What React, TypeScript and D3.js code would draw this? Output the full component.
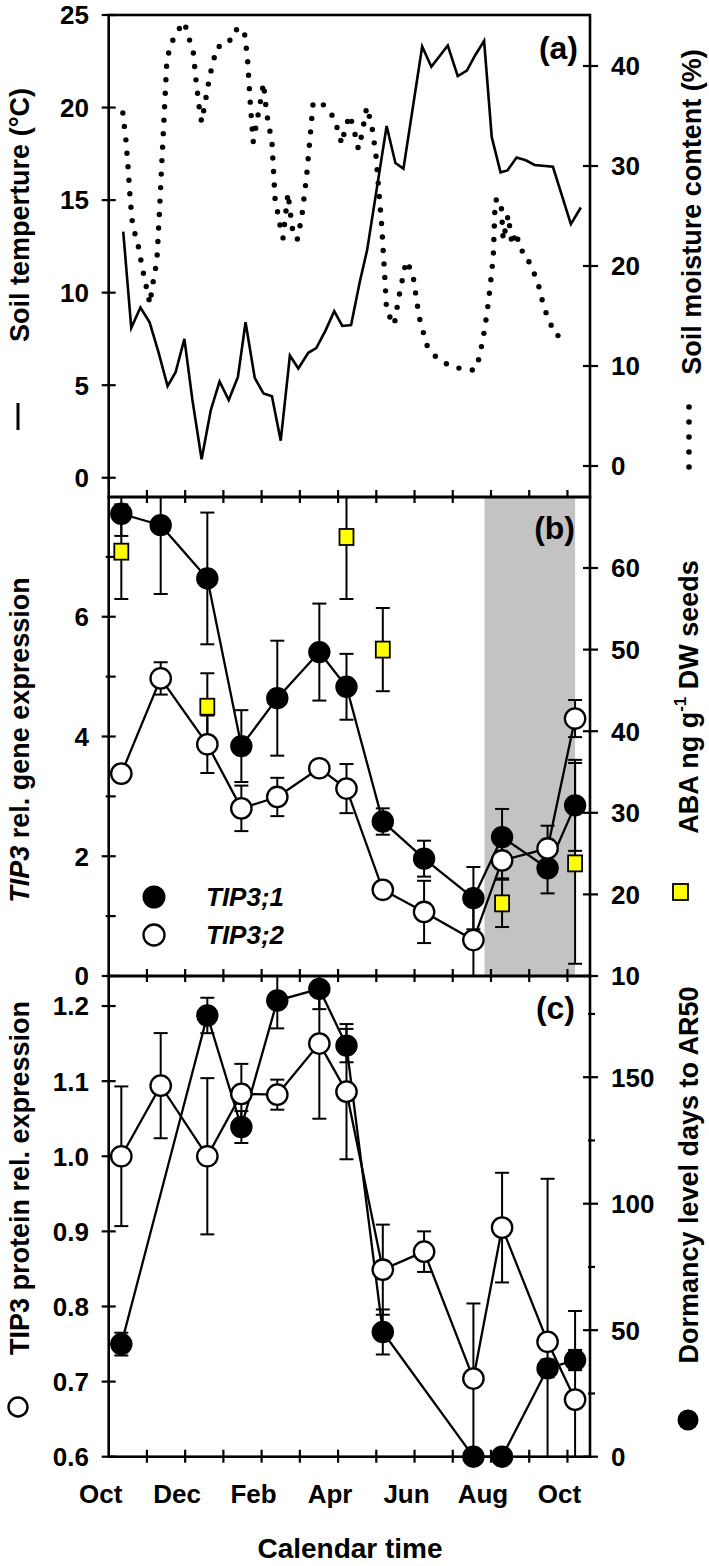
import React from "react";
import * as d3 from "d3";

// ---------- data (x values are months since 1 October) ----------
const monthTicks = [0, 1, 2, 3, 4, 5, 6, 7, 8, 9, 10, 11, 12];
const monthLabelPos = [0, 2, 4, 6, 8, 10, 12];
const monthLabels = ["Oct", "Dec", "Feb", "Apr", "Jun", "Aug", "Oct"];

// panel (a) soil temperature (solid)
const tempMonth = [0.38, 0.59, 0.83, 1.07, 1.3, 1.54, 1.75, 1.98, 2.19, 2.43, 2.67, 2.9, 3.14, 3.38, 3.58, 3.82, 4.05, 4.27, 4.5, 4.74, 4.96, 5.22, 5.43, 5.67, 5.9, 6.11, 6.34, 6.57, 6.76, 7.27, 7.5, 7.71, 8.2, 8.44, 8.87, 9.13, 9.37, 9.58, 9.82, 10.02, 10.25, 10.43, 10.67, 10.91, 11.14, 11.62, 12.09, 12.35];
const tempValue = [13.3, 8.1, 9.2, 8.4, 6.8, 4.95, 5.7, 7.5, 4.2, 1.0, 3.65, 5.2, 4.2, 5.45, 8.4, 5.4, 4.55, 4.4, 2.0, 6.6, 5.9, 6.75, 7.0, 7.95, 9.0, 8.2, 8.25, 10.6, 12.3, 19.0, 17.0, 16.7, 23.3, 22.2, 23.35, 21.7, 22.0, 22.8, 23.6, 18.4, 16.5, 16.6, 17.3, 17.15, 16.9, 16.8, 13.7, 14.6];

// panel (a) soil moisture (dotted)
const moistMonth = [0.37, 0.45, 0.51, 0.56, 0.63, 0.75, 0.89, 1.04, 1.08, 1.13, 1.26, 1.32, 1.39, 1.52, 1.6, 1.76, 1.98, 2.08, 2.21, 2.28, 2.37, 2.43, 2.52, 2.65, 2.83, 3.13, 3.28, 3.54, 3.63, 3.7, 3.78, 3.87, 4.0, 4.05, 4.13, 4.27, 4.35, 4.48, 4.56, 4.69, 4.8, 4.93, 5.05, 5.18, 5.35, 5.63, 5.9, 6.1, 6.18, 6.31, 6.47, 6.53, 6.62, 6.75, 6.88, 6.99, 7.14, 7.23, 7.27, 7.47, 7.58, 7.78, 7.95, 8.12, 8.32, 8.58, 8.98, 9.48, 9.58, 9.7, 9.84, 9.94, 10.06, 10.11, 10.26, 10.32, 10.45, 10.55, 10.66, 10.76, 10.92, 11.02, 11.21, 11.39, 11.55, 11.68, 12.03];
const moistValue = [35.3, 32.6, 29.7, 26.8, 23.9, 22.5, 19.6, 16.9, 16.2, 17.7, 20.5, 24.8, 30.4, 40.4, 41.9, 43.3, 44.4, 43.0, 41.5, 38.7, 35.8, 34.4, 36.3, 39.1, 41.9, 42.2, 43.6, 43.7, 40.8, 36.5, 32.4, 34.3, 37.1, 38.3, 35.3, 32.4, 26.8, 24.1, 22.8, 27.3, 23.8, 22.6, 24.9, 29.1, 36.4, 36.1, 34.8, 32.2, 33.7, 35.1, 32.8, 31.7, 33.1, 35.9, 34.1, 31.1, 24.1, 18.4, 15.5, 14.1, 16.7, 20.5, 19.3, 14.9, 12.1, 10.8, 9.9, 9.6, 9.6, 10.9, 13.8, 16.6, 20.9, 26.6, 26.6, 22.6, 25.1, 22.1, 23.4, 21.6, 21.3, 20.1, 18.6, 15.8, 14.3, 13.1, 12.8];

// sampling dates (b) and (c)
const sampleMonth = [0.33, 1.36, 2.58, 3.47, 4.41, 5.51, 6.22, 7.17, 8.25, 9.54, 10.29, 11.48, 12.2];

// panel (b)
const tip31 = [7.72, 7.53, 6.64, 3.84, 4.64, 5.41, 4.83, 2.58, 1.96, 1.3, 2.32, 1.8, 2.85];
const tip31Err = [0.37, 1.15, 1.1, 0.6, 0.96, 0.81, 0.55, 0.22, 0.3, 0.52, 0.47, 0.42, 0.76];
const tip32 = [3.38, 4.97, 3.87, 2.8, 2.99, 3.47, 3.13, 1.44, 1.07, 0.6, 1.93, 2.13, 4.3];
const tip32Err = [0, 0.27, 0.48, 0.38, 0.32, 0, 0.41, 0, 0.52, 0.6, 0.3, 0.38, 0.31];
const abaMonth = [0.33, 2.58, 6.22, 7.17, 10.29, 12.2];
const aba = [62.0, 43.0, 63.8, 50.0, 18.9, 23.8];
const abaErr = [5.8, 4.1, 7.6, 5.1, 2.9, 12.3];
const shadeMonths = [9.83, 12.2];

// panel (c)
const protein = [1.0, 1.094, 1.0, 1.083, 1.082, 1.15, 1.086, 0.849, 0.873, 0.704, 0.905, 0.753, 0.676];
const proteinErr = [0.093, 0.07, 0.104, 0.04, 0.02, 0.1, 0.09, 0.06, 0.027, 0.1, 0.073, 0.217, 0.118];
const dormMonth = [0.33, 2.58, 3.47, 4.41, 5.51, 6.22, 7.17, 9.54, 10.29, 11.48, 12.2];
const dormancy = [44.5, 174.4, 130.3, 180.3, 184.9, 162.5, 49.3, 0, 0, 34.9, 38.2];
const dormErr = [4.5, 7, 6.3, 11, 8, 6.6, 8.9, 0, 0, 3.5, 4];

// axis ticks
const tempTicks = [0, 5, 10, 15, 20, 25];
const moistTicks = [0, 10, 20, 30, 40];
const geneTicks = [0, 2, 4, 6];
const geneMinor = [1, 3, 5, 7];
const abaTicks = [10, 20, 30, 40, 50, 60];
const protTicks = [0.6, 0.7, 0.8, 0.9, 1.0, 1.1, 1.2];
const dormTicks = [0, 50, 100, 150];
const dormMinor = [25, 75, 125, 175];

const FONT = "'Liberation Sans', Arial, Helvetica, sans-serif";

type Scale = d3.ScaleLinear<number, number>;

function ErrBars({ xs, vs, es, x, y }: { xs: number[]; vs: number[]; es: number[]; x: Scale; y: Scale }) {
  const [d0, d1] = y.domain();
  return (
    <g stroke="#000" strokeWidth={2}>
      {xs.map((m, i) => {
        const e = es[i];
        if (!e) return null;
        const lo = vs[i] - e;
        const hi = vs[i] + e;
        const cx = x(m);
        const yl = y(Math.max(d0, lo));
        const yh = y(Math.min(d1, hi));
        return (
          <g key={i}>
            <line x1={cx} x2={cx} y1={yl} y2={yh} />
            {lo >= d0 && <line x1={cx - 7} x2={cx + 7} y1={yl} y2={yl} />}
            {hi <= d1 && <line x1={cx - 7} x2={cx + 7} y1={yh} y2={yh} />}
          </g>
        );
      })}
    </g>
  );
}

export default function App() {
  const XL = 108.7;
  const XR = 590;
  const x = d3.scaleLinear().domain([0, 12.59]).range([XL, XR]);

  const aTop = 15, aBot = 497, bBot = 976, cBot = 1456.7;
  const yTemp = d3.scaleLinear().domain([-1.04, 25]).range([aBot, aTop]);
  const yMoist = d3.scaleLinear().domain([-3.1, 45.1]).range([aBot, aTop]);
  const yGene = d3.scaleLinear().domain([0, 8]).range([bBot, aBot]);
  const yAba = d3.scaleLinear().domain([10, 68.7]).range([bBot, aBot]);
  const yProt = d3.scaleLinear().domain([0.6, 1.24]).range([cBot, bBot]);
  const yDorm = d3.scaleLinear().domain([0, 190]).range([cBot, bBot]);

  const line = (xs: number[], vs: number[], ys: Scale) =>
    d3.line<number>().x((_, i) => x(xs[i])).y((v) => ys(v))(vs) || "";

  const TF = 26;
  const leftTicks = (vals: number[], s: Scale, fmt: (v: number) => string) => (
    <g>
      {vals.map((v) => (
        <g key={v}>
          <line x1={XL - 7} x2={XL + 7} y1={s(v)} y2={s(v)} stroke="#000" strokeWidth={2.2} />
          <text x={89} y={s(v)} dy="0.36em" textAnchor="end" fontSize={TF}>
            {fmt(v)}
          </text>
        </g>
      ))}
    </g>
  );
  const rightTicks = (vals: number[], s: Scale, fmt: (v: number) => string) => (
    <g>
      {vals.map((v) => (
        <g key={v}>
          <line x1={XR - 7} x2={XR + 8} y1={s(v)} y2={s(v)} stroke="#000" strokeWidth={2.2} />
          <text x={611} y={s(v)} dy="0.36em" textAnchor="start" fontSize={TF}>
            {fmt(v)}
          </text>
        </g>
      ))}
    </g>
  );
  const minorLeft = (vals: number[], s: Scale) =>
    vals.map((v) => <line key={v} x1={XL - 3} x2={XL + 7} y1={s(v)} y2={s(v)} stroke="#000" strokeWidth={2.2} />);
  const minorRight = (vals: number[], s: Scale) =>
    vals.map((v) => <line key={v} x1={XR - 2} x2={XR + 5} y1={s(v)} y2={s(v)} stroke="#000" strokeWidth={2.2} />);
  const monthTickMarks = (yy: number) =>
    monthTicks.slice(1).map((m) => (
      <line key={m} x1={x(m)} x2={x(m)} y1={yy - 7} y2={yy + 6} stroke="#000" strokeWidth={2.2} />
    ));

  const R = 10.2;

  return (
    <svg
      width={709}
      height={1566}
      style={{ position: "absolute", left: 0, top: 0, background: "#fff" }}
      fontFamily={FONT}
      fontWeight="bold"
    >
      <rect x={0} y={0} width={709} height={1566} fill="#fff" />

      {/* ---------------- panel (a) ---------------- */}
      <path d={line(moistMonth, moistValue, yMoist)} fill="none" stroke="#000" strokeWidth={5.4}
        strokeDasharray="0 13.5" strokeLinecap="round" strokeLinejoin="round" />
      <path d={line(tempMonth, tempValue, yTemp)} fill="none" stroke="#000" strokeWidth={2.6} strokeLinejoin="miter" />
      {leftTicks(tempTicks, yTemp, (v) => String(v))}
      {rightTicks(moistTicks, yMoist, (v) => String(v))}
      {monthTickMarks(aBot)}
      <text x={578} y={59} textAnchor="end" fontSize={32}>(a)</text>

      {/* ---------------- panel (b) ---------------- */}
      <rect x={x(shadeMonths[0])} y={aBot} width={x(shadeMonths[1]) - x(shadeMonths[0])} height={bBot - aBot} fill="#c3c3c3" />
      <ErrBars xs={sampleMonth} vs={tip31} es={tip31Err} x={x} y={yGene} />
      <ErrBars xs={sampleMonth} vs={tip32} es={tip32Err} x={x} y={yGene} />
      <ErrBars xs={abaMonth} vs={aba} es={abaErr} x={x} y={yAba} />
      <path d={line(sampleMonth, tip31, yGene)} fill="none" stroke="#000" strokeWidth={2.3} />
      <path d={line(sampleMonth, tip32, yGene)} fill="none" stroke="#000" strokeWidth={2.3} />
      {leftTicks(geneTicks, yGene, (v) => String(v))}
      {minorLeft(geneMinor, yGene)}
      {rightTicks(abaTicks, yAba, (v) => String(v))}
      {monthTickMarks(bBot)}
      {sampleMonth.map((m, i) => (
        <circle key={"f" + i} cx={x(m)} cy={yGene(tip31[i])} r={R} fill="#000" stroke="#000" strokeWidth={2} />
      ))}
      {sampleMonth.map((m, i) => (
        <circle key={"o" + i} cx={x(m)} cy={yGene(tip32[i])} r={R} fill="#fff" stroke="#000" strokeWidth={2.3} />
      ))}
      {abaMonth.map((m, i) => (
        <rect key={"s" + i} x={x(m) - 7} y={yAba(aba[i]) - 8} width={14} height={16} fill="#ffff00" stroke="#000" strokeWidth={1.8} />
      ))}
      <text x={575} y={539} textAnchor="end" fontSize={32}>(b)</text>
      {/* legend */}
      <circle cx={154} cy={897} r={10.5} fill="#000" stroke="#000" strokeWidth={2} />
      <circle cx={154} cy={935} r={10.5} fill="#fff" stroke="#000" strokeWidth={2.3} />
      <text x={206} y={906} fontSize={26} fontStyle="italic">TIP3;1</text>
      <text x={206} y={944} fontSize={26} fontStyle="italic">TIP3;2</text>

      {/* ---------------- panel (c) ---------------- */}
      <ErrBars xs={sampleMonth} vs={protein} es={proteinErr} x={x} y={yProt} />
      <ErrBars xs={dormMonth} vs={dormancy} es={dormErr} x={x} y={yDorm} />
      <path d={line(dormMonth, dormancy, yDorm)} fill="none" stroke="#000" strokeWidth={2.3} />
      <path d={line(sampleMonth, protein, yProt)} fill="none" stroke="#000" strokeWidth={2.3} />
      {leftTicks(protTicks, yProt, (v) => v.toFixed(1))}
      {rightTicks(dormTicks, yDorm, (v) => String(v))}
      {minorRight(dormMinor, yDorm)}
      {monthTickMarks(cBot)}

      {/* frames */}
      <g fill="none" stroke="#000" strokeWidth={2.6}>
        <rect x={XL} y={aTop} width={XR - XL} height={aBot - aTop} />
        <rect x={XL} y={aBot} width={XR - XL} height={bBot - aBot} />
        <rect x={XL} y={bBot} width={XR - XL} height={cBot - bBot} />
      </g>

      {dormMonth.map((m, i) => (
        <circle key={"d" + i} cx={x(m)} cy={yDorm(dormancy[i])} r={R} fill="#000" stroke="#000" strokeWidth={2} />
      ))}
      {sampleMonth.map((m, i) => (
        <circle key={"p" + i} cx={x(m)} cy={yProt(protein[i])} r={R} fill="#fff" stroke="#000" strokeWidth={2.3} />
      ))}
      <text x={575} y={1019} textAnchor="end" fontSize={32}>(c)</text>

      {/* x axis labels */}
      {monthLabelPos.map((m, i) => (
        <text key={"ml" + i} x={x(m) - 8} y={1503} textAnchor="middle" fontSize={TF}>
          {monthLabels[i]}
        </text>
      ))}
      <text x={350} y={1558} textAnchor="middle" fontSize={28}>Calendar time</text>

      {/* y axis titles */}
      <line x1={18} x2={18} y1={403} y2={430} stroke="#000" strokeWidth={3} />
      <text transform="translate(29,215) rotate(-90)" textAnchor="middle" fontSize={27}>Soil temperture (°C)</text>

      {[407, 422, 437, 452, 467].map((yy) => (
        <circle key={yy} cx={689} cy={yy} r={2.8} fill="#000" />
      ))}
      <text transform="translate(701,212) rotate(-90)" textAnchor="middle" fontSize={27}>Soil moisture content (%)</text>

      <text transform="translate(29,740) rotate(-90)" textAnchor="middle" fontSize={27}>
        <tspan fontStyle="italic">TIP3</tspan> rel. gene expression
      </text>

      <rect x={673} y={884} width={15} height={16} fill="#ffff00" stroke="#000" strokeWidth={1.8} />
      <text transform="translate(698,697) rotate(-90)" textAnchor="middle" fontSize={27}>
        ABA ng g<tspan fontSize={17} dy={-12}>-1</tspan><tspan dy={12}> DW seeds</tspan>
      </text>

      <circle cx={18} cy={1407} r={9.5} fill="#fff" stroke="#000" strokeWidth={2.4} />
      <text transform="translate(29,1178) rotate(-90)" textAnchor="middle" fontSize={27}>TIP3 protein rel. expression</text>

      <circle cx={688} cy={1420} r={10.5} fill="#000" />
      <text transform="translate(698,1175) rotate(-90)" textAnchor="middle" fontSize={27}>Dormancy level days to AR50</text>
    </svg>
  );
}
